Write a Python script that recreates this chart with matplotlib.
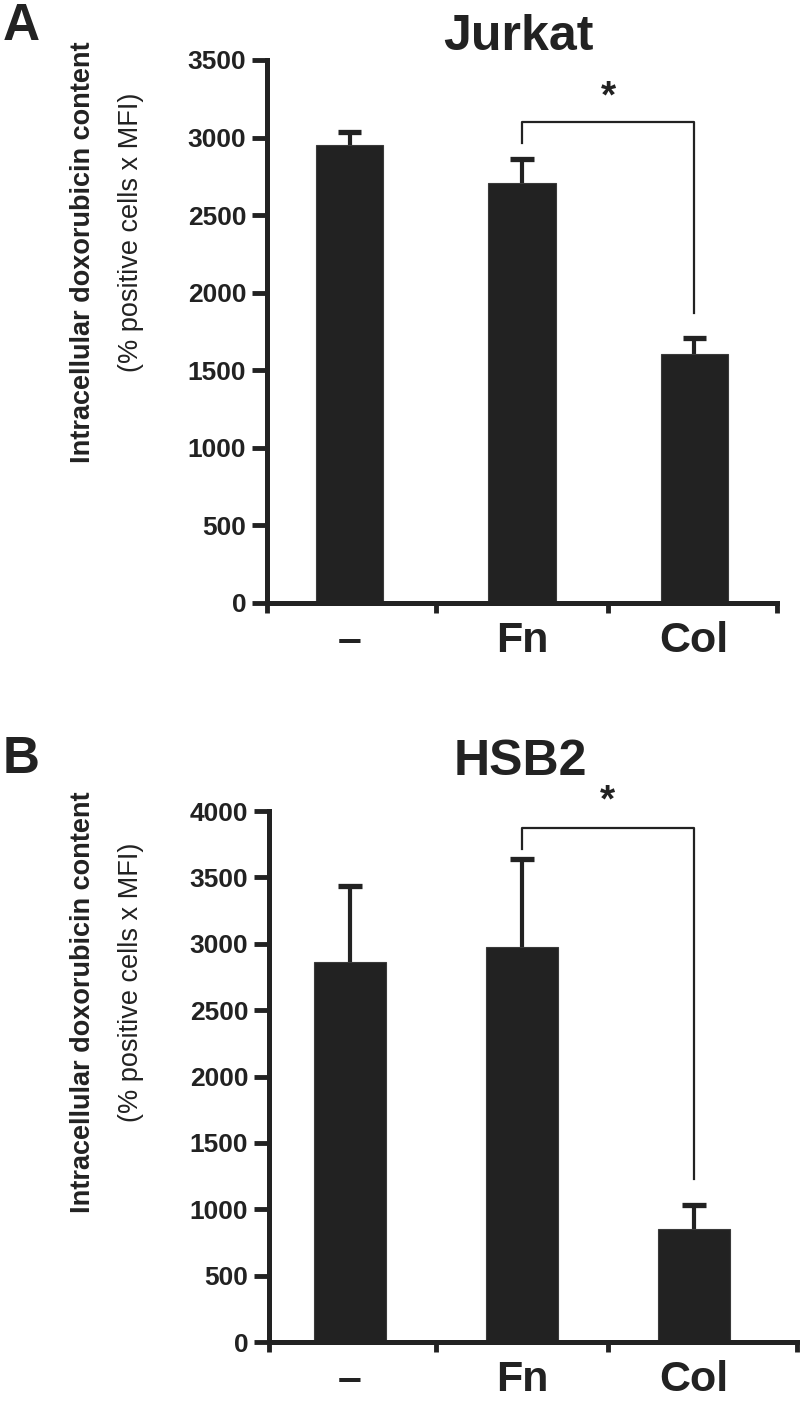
import numpy as np
import matplotlib
matplotlib.use('Agg')
import matplotlib.pyplot as plt

plt.rcParams['font.family'] = ['Liberation Sans', 'DejaVu Sans']

# Data
categories = ['–', 'Fn', 'Col']

jurkat_mean = [2955, 2705, 1605]
jurkat_err = [80, 160, 105]
jurkat_bracket = [3100, 2968, 1870]   # top, left leg end, right leg end
jurkat_star = 3260

hsb2_mean = [2865, 2975, 852]
hsb2_err = [572, 664, 182]
hsb2_bracket = [3870, 3710, 1227]
hsb2_star = 4070

jurkat_ticks = [0, 500, 1000, 1500, 2000, 2500, 3000, 3500]
hsb2_ticks = [0, 500, 1000, 1500, 2000, 2500, 3000, 3500, 4000]

dark = '#222222'

fig = plt.figure(figsize=(8, 14.01), dpi=100)


def panel(ax, means, errs, ticks, xlim, width, bracket, star_y):
    x = np.arange(len(categories))
    means = np.array(means)
    errs = np.array(errs)
    ax.bar(x, means, width=width, color=dark, edgecolor='#3a3a3a', linewidth=0.8, zorder=2)
    # upper error bars only (SD), with caps
    ax.vlines(x, means, means + errs, color=dark, lw=3.0, zorder=1)
    ax.hlines(means + errs, x - 0.068, x + 0.068, color=dark, lw=3.8, zorder=1)

    # significance bracket between Fn and Col
    ax.plot([1, 1, 2, 2], [bracket[1], bracket[0], bracket[0], bracket[2]],
            color=dark, lw=1.6, clip_on=False)
    ax.text(1.5, star_y, '*', ha='center', va='center', fontsize=28,
            fontweight='bold', color=dark, clip_on=False)

    ax.set_xlim(*xlim)
    ax.set_ylim(0, ticks[-1])
    ax.set_yticks(ticks)
    ax.set_yticklabels([str(t) for t in ticks], fontsize=19, fontweight='bold', color=dark)
    ax.set_xticks([xlim[0], 0.5, 1.5, xlim[1]])
    ax.set_xticklabels([])
    ax.set_xticks(x, categories, minor=True)
    ax.tick_params(axis='x', which='minor', length=0, pad=13, labelsize=31, colors=dark)
    for lab in ax.get_xticklabels(minor=True):
        lab.set_fontweight('bold')
    ax.tick_params(axis='y', which='major', length=11, width=3.5, color=dark, pad=4)
    ax.tick_params(axis='x', which='major', length=7, width=3.5, color=dark)

    for s in ['top', 'right']:
        ax.spines[s].set_visible(False)
    for s in ['left', 'bottom']:
        ax.spines[s].set_linewidth(3.6)
        ax.spines[s].set_color(dark)
        ax.spines[s].set_capstyle('projecting')


axA = fig.add_axes([267 / 800, 1 - 603 / 1401, 510 / 800, 543 / 1401])
panel(axA, jurkat_mean, jurkat_err, jurkat_ticks, (-0.48, 2.48), 0.39,
      jurkat_bracket, jurkat_star)
fig.text(518 / 800, 1 - 50 / 1401, 'Jurkat', fontsize=36,
         fontweight='bold', color=dark, ha='center', va='baseline')

axB = fig.add_axes([269 / 800, 1 - 1342 / 1401, 528 / 800, 531 / 1401])
panel(axB, hsb2_mean, hsb2_err, hsb2_ticks, (-0.47, 2.6), 0.42,
      hsb2_bracket, hsb2_star)
fig.text(520 / 800, 1 - 775 / 1401, 'HSB2', fontsize=36, fontweight='bold',
         color=dark, ha='center', va='baseline')

# panel letters
fig.text(3 / 800, 1 - 40 / 1401, 'A', fontsize=37, fontweight='bold', color=dark, va='baseline')
fig.text(3 / 800, 1 - 773 / 1401, 'B', fontsize=37, fontweight='bold', color=dark, va='baseline')

# two-line y labels
for cy in [252, 1002]:
    fig.text(83 / 800, 1 - cy / 1401, 'Intracellular doxorubicin content', rotation=90,
             fontsize=19.5, fontweight='bold', color=dark, ha='center', va='center')
    fig.text(131 / 800, 1 - (cy - 20) / 1401, '(% positive cells x MFI)', rotation=90,
             fontsize=19.5, color=dark, ha='center', va='center')

fig.savefig('out.png', dpi=100)
